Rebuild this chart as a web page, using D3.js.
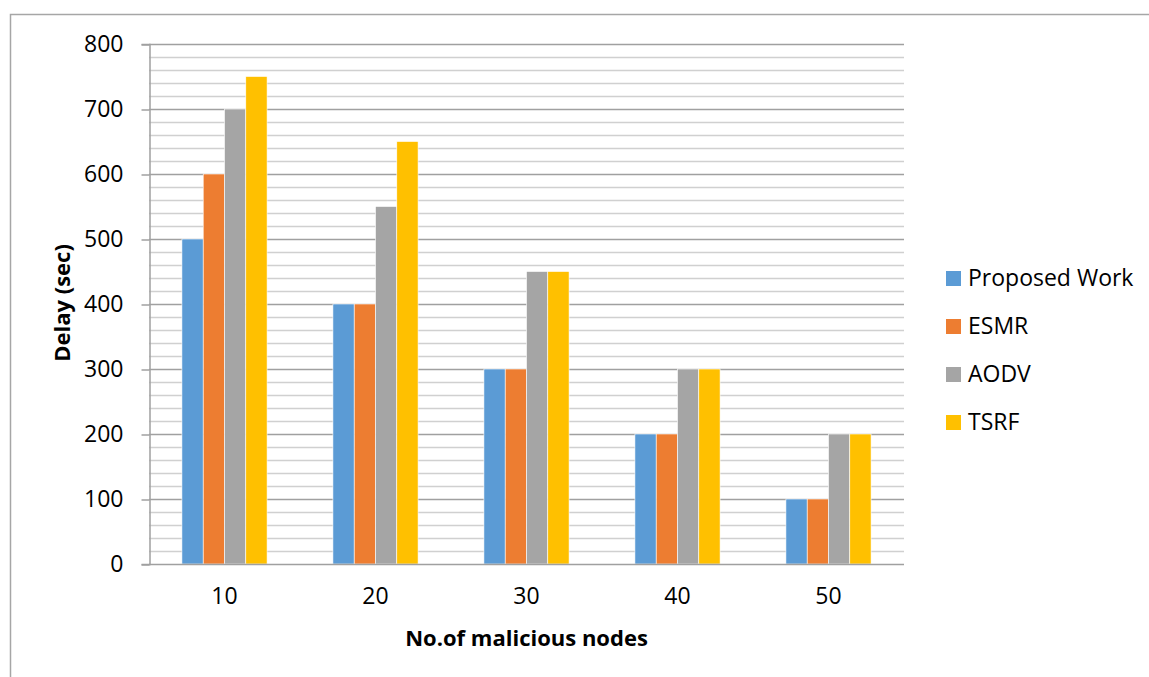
<!DOCTYPE html>
<html>
<head>
<meta charset="utf-8">
<script src="https://cdn.jsdelivr.net/npm/d3@7"></script>
<style>
  html, body { margin: 0; padding: 0; background: #fff; }
  svg { display: block; font-family: "Open Sans", sans-serif; }
</style>
</head>
<body>
<svg id="chart" width="1149" height="677"></svg>
<script>
// Delay per routing scheme versus number of malicious nodes
const categories = ["10", "20", "30", "40", "50"];
const seriesNames = ["Proposed Work", "ESMR", "AODV", "TSRF"];
const proposedWork = [500, 400, 300, 200, 100];
const esmr = [600, 400, 300, 200, 100];
const aodv = [700, 550, 450, 300, 200];
const tsrf = [750, 650, 450, 300, 200];
const yTicks = [0, 100, 200, 300, 400, 500, 600, 700, 800];
const seriesColors = ["#5B9BD5", "#ED7D31", "#A5A5A5", "#FFC000"];

const seriesValues = [proposedWork, esmr, aodv, tsrf];
const FONT = "'Open Sans', sans-serif";

const svg = d3.select("#chart");

// outer frame (top and left edges)
svg.append("path")
  .attr("d", "M10.5,677 L10.5,14.5 L1149,14.5")
  .attr("fill", "none")
  .attr("stroke", "#A6A6A6")
  .attr("stroke-width", 1.5);

const plot = { left: 149, right: 904, top: 44, bottom: 564 };

const y = d3.scaleLinear().domain([0, 800]).range([plot.bottom, plot.top]);

const x0 = d3.scaleBand()
  .domain(categories)
  .range([plot.left, plot.right])
  .paddingInner(0.436)
  .paddingOuter(0.218);

const x1 = d3.scaleBand()
  .domain(seriesNames)
  .range([0, x0.bandwidth()]);

// minor gridlines every 20
const minor = d3.range(20, 800, 20).filter(v => v % 100 !== 0);
svg.append("g")
  .selectAll("line")
  .data(minor)
  .join("line")
  .attr("x1", plot.left).attr("x2", plot.right)
  .attr("y1", d => Math.round(y(d)) + 0.5).attr("y2", d => Math.round(y(d)) + 0.5)
  .attr("stroke", "#D0D0D0")
  .attr("stroke-width", 1.5);

// major gridlines every 100
svg.append("g")
  .selectAll("line")
  .data(yTicks.filter(v => v > 0))
  .join("line")
  .attr("x1", plot.left).attr("x2", plot.right)
  .attr("y1", d => Math.round(y(d)) + 0.5).attr("y2", d => Math.round(y(d)) + 0.5)
  .attr("stroke", "#A0A0A0")
  .attr("stroke-width", 1.5);

// bars
const groups = svg.append("g")
  .selectAll("g")
  .data(categories)
  .join("g")
  .attr("transform", d => `translate(${x0(d)},0)`);

groups.selectAll("rect")
  .data((c, i) => seriesNames.map((s, j) => ({ s, j, v: seriesValues[j][i] })))
  .join("rect")
  .attr("x", d => x1(d.s))
  .attr("width", x1.bandwidth())
  .attr("y", d => y(d.v))
  .attr("height", d => y(0) - y(d.v))
  .attr("fill", d => seriesColors[d.j])
  .attr("stroke", "#fff")
  .attr("stroke-width", 0.6);

// y axis
const yAxis = d3.axisLeft(y)
  .tickValues(yTicks)
  .tickSize(8)
  .tickPadding(18)
  .tickFormat(d3.format("d"));
const yg = svg.append("g")
  .attr("transform", `translate(${plot.left + 0.5},0)`)
  .call(yAxis);
yg.select(".domain").attr("stroke", "#A0A0A0").attr("stroke-width", 1.5);
yg.selectAll(".tick line").attr("stroke", "#A0A0A0").attr("stroke-width", 1.5)
  .attr("transform", "translate(0,0.5)");
yg.selectAll(".tick text")
  .attr("fill", "#000")
  .attr("font-size", 23)
  .attr("font-family", FONT);

// x axis
const xAxis = d3.axisBottom(x0).tickSize(0).tickPadding(23);
const xg = svg.append("g")
  .attr("transform", `translate(0,${plot.bottom + 0.5})`)
  .call(xAxis);
xg.select(".domain").attr("stroke", "#A0A0A0").attr("stroke-width", 1.5)
  .attr("d", `M${plot.left},0H${plot.right}`);
xg.selectAll(".tick text")
  .attr("fill", "#000")
  .attr("font-size", 23)
  .attr("font-family", FONT);

// axis titles
svg.append("text")
  .attr("x", (plot.left + plot.right) / 2)
  .attr("y", 646)
  .attr("text-anchor", "middle")
  .attr("font-size", 22)
  .attr("font-weight", "bold")
  .text("No.of malicious nodes");

svg.append("text")
  .attr("transform", `translate(70,${(plot.top + plot.bottom) / 2 - 1}) rotate(-90)`)
  .attr("text-anchor", "middle")
  .attr("font-size", 22)
  .attr("font-weight", "bold")
  .text("Delay (sec)");

// legend
const legend = svg.append("g")
  .selectAll("g")
  .data(seriesNames)
  .join("g")
  .attr("transform", (d, i) => `translate(946,${278 + i * 48})`);

legend.append("rect")
  .attr("x", 0).attr("y", -7)
  .attr("width", 15).attr("height", 15)
  .attr("fill", (d, i) => seriesColors[i]);

legend.append("text")
  .attr("x", 22)
  .attr("y", 0)
  .attr("dy", "0.35em")
  .attr("font-size", 23)
  .text(d => d);
</script>
</body>
</html>
